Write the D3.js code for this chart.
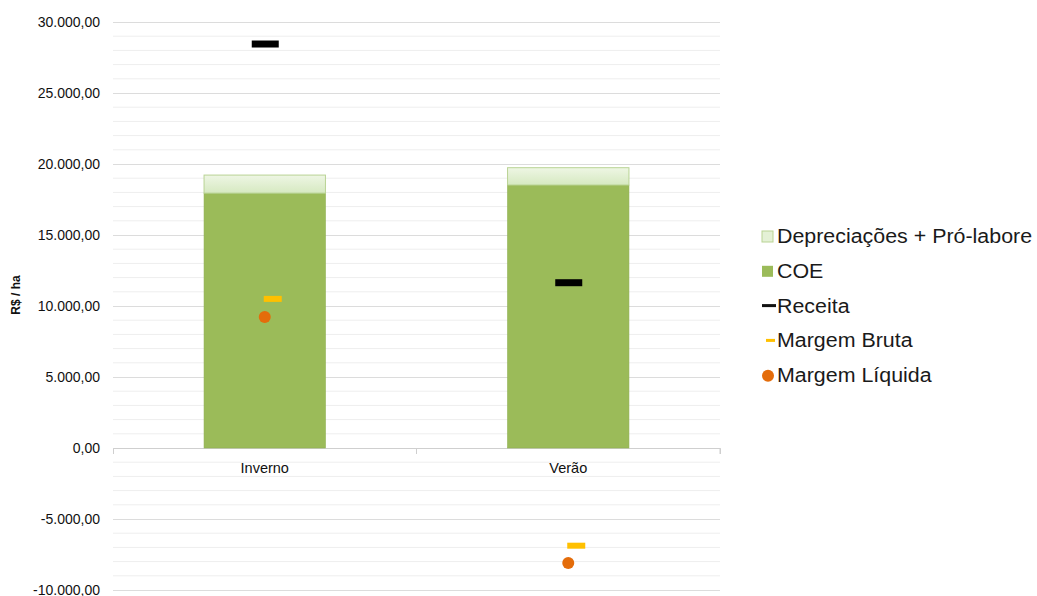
<!DOCTYPE html>
<html><head><meta charset="utf-8">
<script src="https://cdn.jsdelivr.net/npm/d3@7"></script>
<style>body{margin:0;background:#fff;}svg{display:block;font-family:"Liberation Sans",Arial,sans-serif;}</style>
</head><body><svg id="c" width="1037" height="596"></svg>
<script>
const categories = ["Inverno", "Verão"];
const coe = [17950, 18520];
const depreciacoes = [1270, 1220];
const receita = [28450, 11640];
const margemBruta = [10500, -6880];
const margemLiquida = [9230, -8100];
const yTicks = [-10000, -5000, 0, 5000, 10000, 15000, 20000, 25000, 30000];
const legendLabels = ["Depreciações + Pró-labore", "COE", "Receita", "Margem Bruta", "Margem Líquida"];

(function () {
const svg = d3.select("#c");
const pL = 113, pR = 720, pT = 22, pB = 590;
const y = d3.scaleLinear().domain([-10000, 30000]).range([pB, pT]);
const x = d3.scaleBand().domain(categories).range([pL, pR]).paddingInner(0).paddingOuter(0);
const fmt = v => {
  const s = d3.format(",.2f")(v);
  return s.replace(/,/g, "#").replace(/\./g, ",").replace(/#/g, ".").replace("−", "-");
};

const defs = svg.append("defs");
const grad = defs.append("linearGradient").attr("id", "dep").attr("x1", 0).attr("x2", 0).attr("y1", 0).attr("y2", 1);
grad.append("stop").attr("offset", "0%").attr("stop-color", "#eef6e4");
grad.append("stop").attr("offset", "100%").attr("stop-color", "#d6e9c1");

// minor gridlines
const minor = d3.range(-10000, 30001, 1000).filter(v => v % 5000 !== 0);
svg.append("g").selectAll("line").data(minor).join("line")
  .attr("x1", pL).attr("x2", pR).attr("y1", d => y(d)).attr("y2", d => y(d))
  .attr("stroke", "#eeeeee").attr("stroke-width", 1);

// major gridlines + labels via axis
const axis = d3.axisLeft(y).tickValues(yTicks).tickFormat(fmt).tickSize(-(pR - pL)).tickPadding(13);
const ga = svg.append("g").attr("transform", `translate(${pL},0)`).call(axis);
ga.select(".domain").remove();
ga.selectAll(".tick line").attr("stroke", "#dcdcdc").attr("stroke-width", 1.2);
ga.selectAll(".tick text").attr("font-size", 14).attr("fill", "#111").attr("x", -13);

// zero axis line
const gx = svg.append("g").attr("transform", `translate(0,${y(0)})`)
  .call(d3.axisBottom(x).tickSize(6).tickSizeOuter(6).tickPadding(9));
gx.select(".domain").attr("stroke", "#cfcfcf");
gx.selectAll(".tick line").remove();
gx.selectAll(".tick text").attr("font-size", 14.5).attr("fill", "#111");
svg.append("g").selectAll("line").data([pR, x("Verão")]).join("line")
  .attr("x1", d => d).attr("x2", d => d).attr("y1", y(0)).attr("y2", y(0) + 6).attr("stroke", "#cfcfcf");

// bars
const bw = x.bandwidth() * 0.4;
const bx = c => x(c) + (x.bandwidth() - bw) / 2;
svg.append("g").selectAll("rect").data(categories).join("rect")
  .attr("x", d => bx(d)).attr("width", bw)
  .attr("y", (d, i) => y(coe[i])).attr("height", (d, i) => y(0) - y(coe[i]))
  .attr("fill", "#9bbb59").attr("stroke", "#8fb050").attr("stroke-width", 0.6);
svg.append("g").selectAll("rect").data(categories).join("rect")
  .attr("x", d => bx(d)).attr("width", bw)
  .attr("y", (d, i) => y(coe[i] + depreciacoes[i])).attr("height", (d, i) => y(coe[i]) - y(coe[i] + depreciacoes[i]))
  .attr("fill", "url(#dep)").attr("stroke", "#b9d394").attr("stroke-width", 1);

const cx = c => x(c) + x.bandwidth() / 2;
// Receita markers
svg.append("g").selectAll("rect").data(categories).join("rect")
  .attr("x", d => cx(d) - 13).attr("width", 27)
  .attr("y", (d, i) => y(receita[i]) - 3.5).attr("height", 7).attr("fill", "#000");
// Margem Bruta markers
svg.append("g").selectAll("rect").data(categories).join("rect")
  .attr("x", d => cx(d) - 1).attr("width", 18)
  .attr("y", (d, i) => y(margemBruta[i]) - 3).attr("height", 6).attr("fill", "#ffc000");
// Margem Líquida markers
svg.append("g").selectAll("circle").data(categories).join("circle")
  .attr("cx", d => cx(d)).attr("cy", (d, i) => y(margemLiquida[i])).attr("r", 6)
  .attr("fill", "#e46c0a");

// y-axis title
svg.append("text").attr("transform", `translate(20,295) rotate(-90)`)
  .attr("text-anchor", "middle").attr("font-size", 12).attr("font-weight", "bold").attr("fill", "#111")
  .text("R$ / ha");

// legend
const lg = svg.append("g");
const ly = i => 236 + i * 34.8;
legendLabels.forEach((t, i) => {
  const g = lg.append("g").attr("transform", `translate(762,${ly(i)})`);
  if (i === 0) g.append("rect").attr("x", 0).attr("y", -5).attr("width", 11).attr("height", 11).attr("fill", "#e4f1d6").attr("stroke", "#b9d394");
  if (i === 1) g.append("rect").attr("x", 0).attr("y", -5).attr("width", 11).attr("height", 11).attr("fill", "#9bbb59");
  if (i === 2) g.append("rect").attr("x", 0).attr("y", -1.5).attr("width", 14).attr("height", 3).attr("fill", "#111");
  if (i === 3) g.append("rect").attr("x", 4).attr("y", -1.5).attr("width", 9).attr("height", 3).attr("fill", "#ffc000");
  if (i === 4) g.append("circle").attr("cx", 6).attr("cy", 0.5).attr("r", 6).attr("fill", "#e46c0a");
  g.append("text").attr("transform", "translate(15,0) scale(1.07,1)").attr("dy", "0.35em")
    .attr("font-size", 20).attr("fill", "#1a1a1a").text(t);
});
})();
</script></body></html>
